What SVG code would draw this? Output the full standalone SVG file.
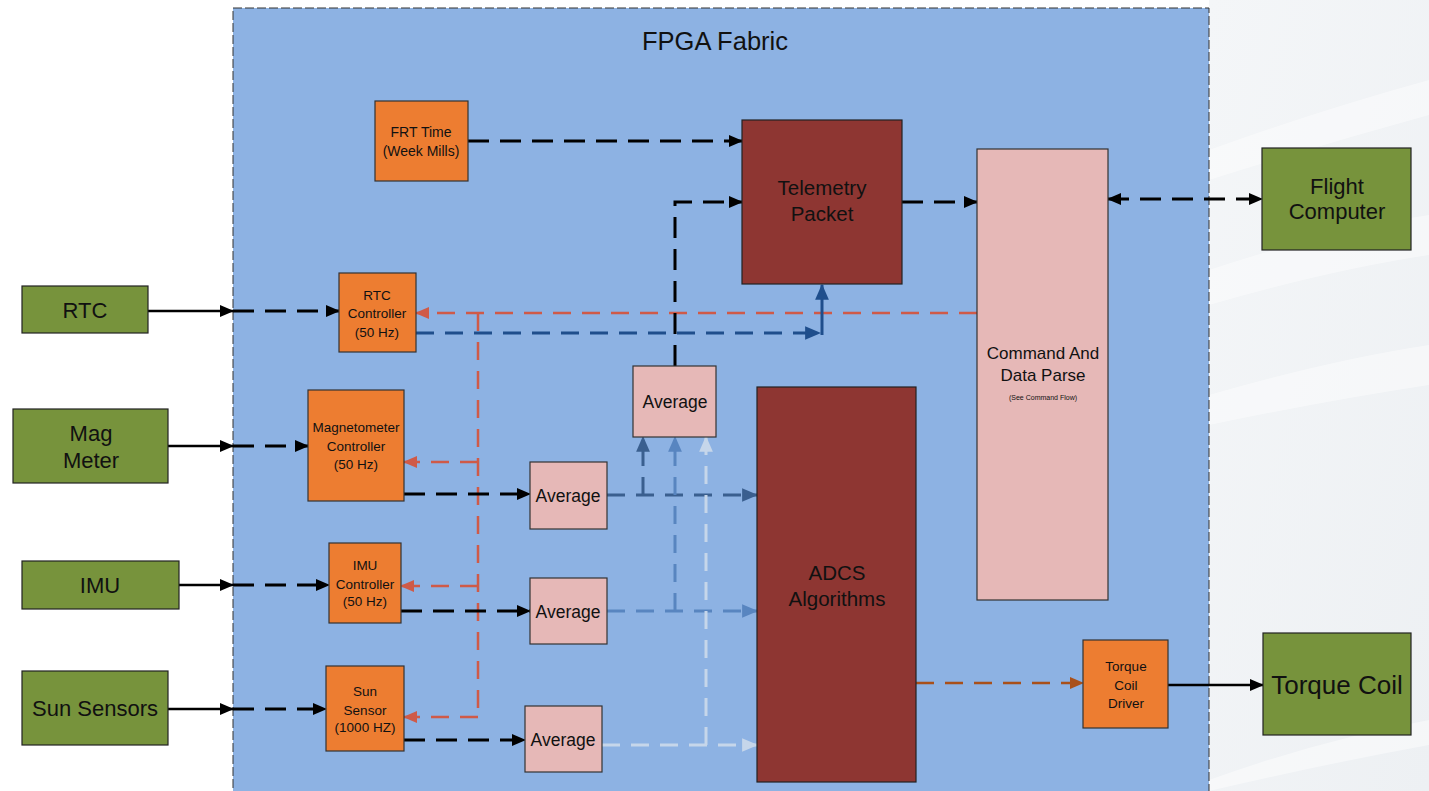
<svg xmlns="http://www.w3.org/2000/svg" width="1429" height="791" viewBox="0 0 1429 791">
  <style>
    text { font-family: "Liberation Sans", Arial, sans-serif; fill: #111; text-anchor: middle; }
    .ext { fill: #77933c; stroke: #222; stroke-width: 1.2; }
    .ctl { fill: #ed7d31; stroke: #333; stroke-width: 1.2; }
    .avg { fill: #e6b8b7; stroke: #333; stroke-width: 1.2; }
    .core { fill: #8e3632; stroke: #222; stroke-width: 1.2; }
    .solid { fill: none; stroke: #000; stroke-width: 2.5; }
    .blk { fill: none; stroke: #000; stroke-width: 3; stroke-dasharray: 21 11; }
    .red { fill: none; stroke: #cf5a48; stroke-width: 2.5; stroke-dasharray: 18 11; }
    .bdk { fill: none; stroke: #1f4e8c; stroke-width: 3; stroke-dasharray: 18 11; }
    .bmg { fill: none; stroke: #3a5f8f; stroke-width: 3; stroke-dasharray: 18 11; }
    .bim { fill: none; stroke: #5885c0; stroke-width: 3; stroke-dasharray: 18 11; }
    .blt { fill: none; stroke: #c6d6ea; stroke-width: 3; stroke-dasharray: 18 11; }
    .brn { fill: none; stroke: #a9501a; stroke-width: 2.5; stroke-dasharray: 18 11; }
    .s14 { font-size: 13.5px; }
    .s17 { font-size: 17.5px; }
    .s20 { font-size: 20.5px; }
    .s22 { font-size: 22px; }
  </style>
  <defs>
    <marker id="ak" viewBox="0 0 14 12" refX="13" refY="6" markerWidth="14" markerHeight="12" markerUnits="userSpaceOnUse" orient="auto-start-reverse"><path d="M0,0 L14,6 L0,12 z" fill="#000"/></marker>
    <marker id="ar" viewBox="0 0 14 12" refX="13" refY="6" markerWidth="14" markerHeight="12" markerUnits="userSpaceOnUse" orient="auto"><path d="M0,0 L14,6 L0,12 z" fill="#cf5a48"/></marker>
    <marker id="abd" viewBox="0 0 14 12" refX="13" refY="6" markerWidth="16" markerHeight="14" markerUnits="userSpaceOnUse" orient="auto"><path d="M0,0 L14,6 L0,12 z" fill="#1f4e8c"/></marker>
    <marker id="abm" viewBox="0 0 14 12" refX="13" refY="6" markerWidth="16" markerHeight="14" markerUnits="userSpaceOnUse" orient="auto"><path d="M0,0 L14,6 L0,12 z" fill="#3a5f8f"/></marker>
    <marker id="abi" viewBox="0 0 14 12" refX="13" refY="6" markerWidth="16" markerHeight="14" markerUnits="userSpaceOnUse" orient="auto"><path d="M0,0 L14,6 L0,12 z" fill="#5885c0"/></marker>
    <marker id="abl" viewBox="0 0 14 12" refX="13" refY="6" markerWidth="16" markerHeight="14" markerUnits="userSpaceOnUse" orient="auto"><path d="M0,0 L14,6 L0,12 z" fill="#c6d6ea"/></marker>
    <marker id="abr" viewBox="0 0 14 12" refX="13" refY="6" markerWidth="14" markerHeight="12" markerUnits="userSpaceOnUse" orient="auto"><path d="M0,0 L14,6 L0,12 z" fill="#a9501a"/></marker>
    <linearGradient id="haze" x1="0" y1="0" x2="1" y2="1">
      <stop offset="0" stop-color="#f4f6f8"/>
      <stop offset="1" stop-color="#edf0f3"/>
    </linearGradient>
  </defs>

  <!-- page background -->
  <rect x="0" y="0" width="1429" height="791" fill="#ffffff"/>
  <rect x="1209" y="0" width="220" height="791" fill="url(#haze)"/>
  <g fill="#ffffff" opacity="0.45">
    <path d="M1209,150 Q1320,110 1429,80 L1429,115 Q1320,145 1209,180 z"/>
    <path d="M1209,270 Q1330,230 1429,215 L1429,255 Q1330,270 1209,305 z"/>
    <path d="M1209,395 Q1330,360 1429,345 L1429,385 Q1330,400 1209,425 z"/>
    <path d="M1209,780 Q1320,740 1429,720 L1429,745 Q1320,765 1209,791 z"/>
  </g>

  <!-- FPGA fabric region -->
  <g id="fpga">
    <rect x="233" y="8" width="976" height="800" fill="#8db2e3" stroke="#333" stroke-width="1" stroke-dasharray="9 3"/>
    <text x="715" y="50" style="font-size:25.5px">FPGA Fabric</text>
  </g>

  <!-- connectors -->
  <g id="connectors">
    <!-- external inputs -->
    <path class="solid" d="M148,311 H233" marker-end="url(#ak)"/>
    <path class="blk" d="M233,311 H339" marker-end="url(#ak)"/>
    <path class="solid" d="M168,446 H233" marker-end="url(#ak)"/>
    <path class="blk" d="M233,446 H308" marker-end="url(#ak)"/>
    <path class="solid" d="M179,585 H233" marker-end="url(#ak)"/>
    <path class="blk" d="M233,585 H329" marker-end="url(#ak)"/>
    <path class="solid" d="M168,709 H233" marker-end="url(#ak)"/>
    <path class="blk" d="M233,709 H326" marker-end="url(#ak)"/>

    <!-- command feedback to controllers -->
    <path class="red" d="M977,313 H416" marker-end="url(#ar)"/>
    <path class="red" d="M478,313 V717"/>
    <path class="red" d="M478,462 H404" marker-end="url(#ar)"/>
    <path class="red" d="M478,586 H401" marker-end="url(#ar)"/>
    <path class="red" d="M478,717 H404" marker-end="url(#ar)"/>

    <!-- RTC to telemetry -->
    <path class="bdk" d="M416,333 H820" marker-end="url(#abd)"/>
    <path fill="none" stroke="#1f4e8c" stroke-width="3" d="M822,335 V285" marker-end="url(#abd)"/>

    <!-- controllers to averages -->
    <path class="blk" d="M404,494 H530" marker-end="url(#ak)"/>
    <path class="blk" d="M401,611 H530" marker-end="url(#ak)"/>
    <path class="blk" d="M404,740 H525" marker-end="url(#ak)"/>

    <!-- averages to ADCS and combined average -->
    <path class="bmg" d="M607,495 H757" marker-end="url(#abm)"/>
    <path class="bmg" d="M643,495 V437" marker-end="url(#abm)"/>
    <path class="bim" d="M607,611 H757" marker-end="url(#abi)"/>
    <path class="bim" d="M675,611 V437" marker-end="url(#abi)"/>
    <path class="blt" d="M602,745 H757" marker-end="url(#abl)"/>
    <path class="blt" d="M706,745 V437" marker-end="url(#abl)"/>

    <!-- telemetry paths -->
    <path class="blk" d="M468,141 H742" marker-end="url(#ak)"/>
    <path class="blk" d="M675,366 V202 H742" marker-end="url(#ak)"/>
    <path class="blk" d="M902,202 H977" marker-end="url(#ak)"/>
    <path class="blk" d="M1108,199 H1262" marker-start="url(#ak)" marker-end="url(#ak)"/>

    <!-- actuator output -->
    <path class="brn" d="M916,683 H1083" marker-end="url(#abr)"/>
    <path class="solid" d="M1168,685 H1263" marker-end="url(#ak)"/>
  </g>

  <!-- external devices -->
  <g id="rtc"><rect class="ext" x="22" y="286" width="126" height="47"/><text class="s22" x="85" y="318">RTC</text></g>
  <g id="mag-meter"><rect class="ext" x="13" y="409" width="155" height="74"/><text class="s22" x="91" y="441">Mag</text><text class="s22" x="91" y="468">Meter</text></g>
  <g id="imu"><rect class="ext" x="22" y="561" width="157" height="48"/><text class="s22" x="100" y="593">IMU</text></g>
  <g id="sun-sensors"><rect class="ext" x="22" y="671" width="146" height="74"/><text class="s22" x="95" y="716">Sun Sensors</text></g>
  <g id="flight-computer"><rect class="ext" x="1262" y="148" width="149" height="102"/><text class="s22" x="1337" y="194">Flight</text><text class="s22" x="1337" y="219">Computer</text></g>
  <g id="torque-coil"><rect class="ext" x="1263" y="633" width="148" height="102"/><text x="1337" y="694" style="font-size:26px">Torque Coil</text></g>

  <!-- controllers -->
  <g id="frt-time"><rect class="ctl" x="375" y="101" width="93" height="80"/><text x="421" y="137" style="font-size:14px">FRT Time</text><text x="421" y="156" style="font-size:14px">(Week Mills)</text></g>
  <g id="rtc-controller"><rect class="ctl" x="339" y="273" width="77" height="79"/><text class="s14" x="377" y="300">RTC</text><text class="s14" x="377" y="318">Controller</text><text class="s14" x="377" y="337">(50 Hz)</text></g>
  <g id="mag-controller"><rect class="ctl" x="308" y="390" width="96" height="111"/><text class="s14" x="356" y="432">Magnetometer</text><text class="s14" x="356" y="451">Controller</text><text class="s14" x="356" y="469">(50 Hz)</text></g>
  <g id="imu-controller"><rect class="ctl" x="329" y="543" width="72" height="80"/><text class="s14" x="365" y="570">IMU</text><text class="s14" x="365" y="589">Controller</text><text class="s14" x="365" y="606">(50 Hz)</text></g>
  <g id="sun-sensor"><rect class="ctl" x="326" y="666" width="78" height="85"/><text class="s14" x="365" y="696">Sun</text><text class="s14" x="365" y="715">Sensor</text><text class="s14" x="365" y="732">(1000 HZ)</text></g>
  <g id="torque-driver"><rect class="ctl" x="1083" y="640" width="85" height="88"/><text class="s14" x="1126" y="671">Torque</text><text class="s14" x="1126" y="690">Coil</text><text class="s14" x="1126" y="708">Driver</text></g>

  <!-- averaging blocks -->
  <g id="avg-combined"><rect class="avg" x="633" y="366" width="83" height="71"/><text class="s17" x="675" y="408">Average</text></g>
  <g id="avg-mag"><rect class="avg" x="530" y="462" width="77" height="67"/><text class="s17" x="568" y="502">Average</text></g>
  <g id="avg-imu"><rect class="avg" x="530" y="578" width="77" height="66"/><text class="s17" x="568" y="618">Average</text></g>
  <g id="avg-sun"><rect class="avg" x="525" y="706" width="77" height="66"/><text class="s17" x="563" y="746">Average</text></g>

  <!-- processing blocks -->
  <g id="telemetry"><rect class="core" x="742" y="120" width="160" height="164"/><text class="s20" x="822" y="195">Telemetry</text><text class="s20" x="822" y="221">Packet</text></g>
  <g id="adcs"><rect class="core" x="757" y="387" width="159" height="395"/><text class="s20" x="837" y="580">ADCS</text><text class="s20" x="837" y="606">Algorithms</text></g>
  <g id="command-parse"><rect class="avg" x="977" y="149" width="131" height="451"/><text x="1043" y="359" style="font-size:17px">Command And</text><text x="1043" y="381" style="font-size:17px">Data Parse</text><text x="1043" y="400" style="font-size:7px">(See Command Flow)</text></g>
</svg>
